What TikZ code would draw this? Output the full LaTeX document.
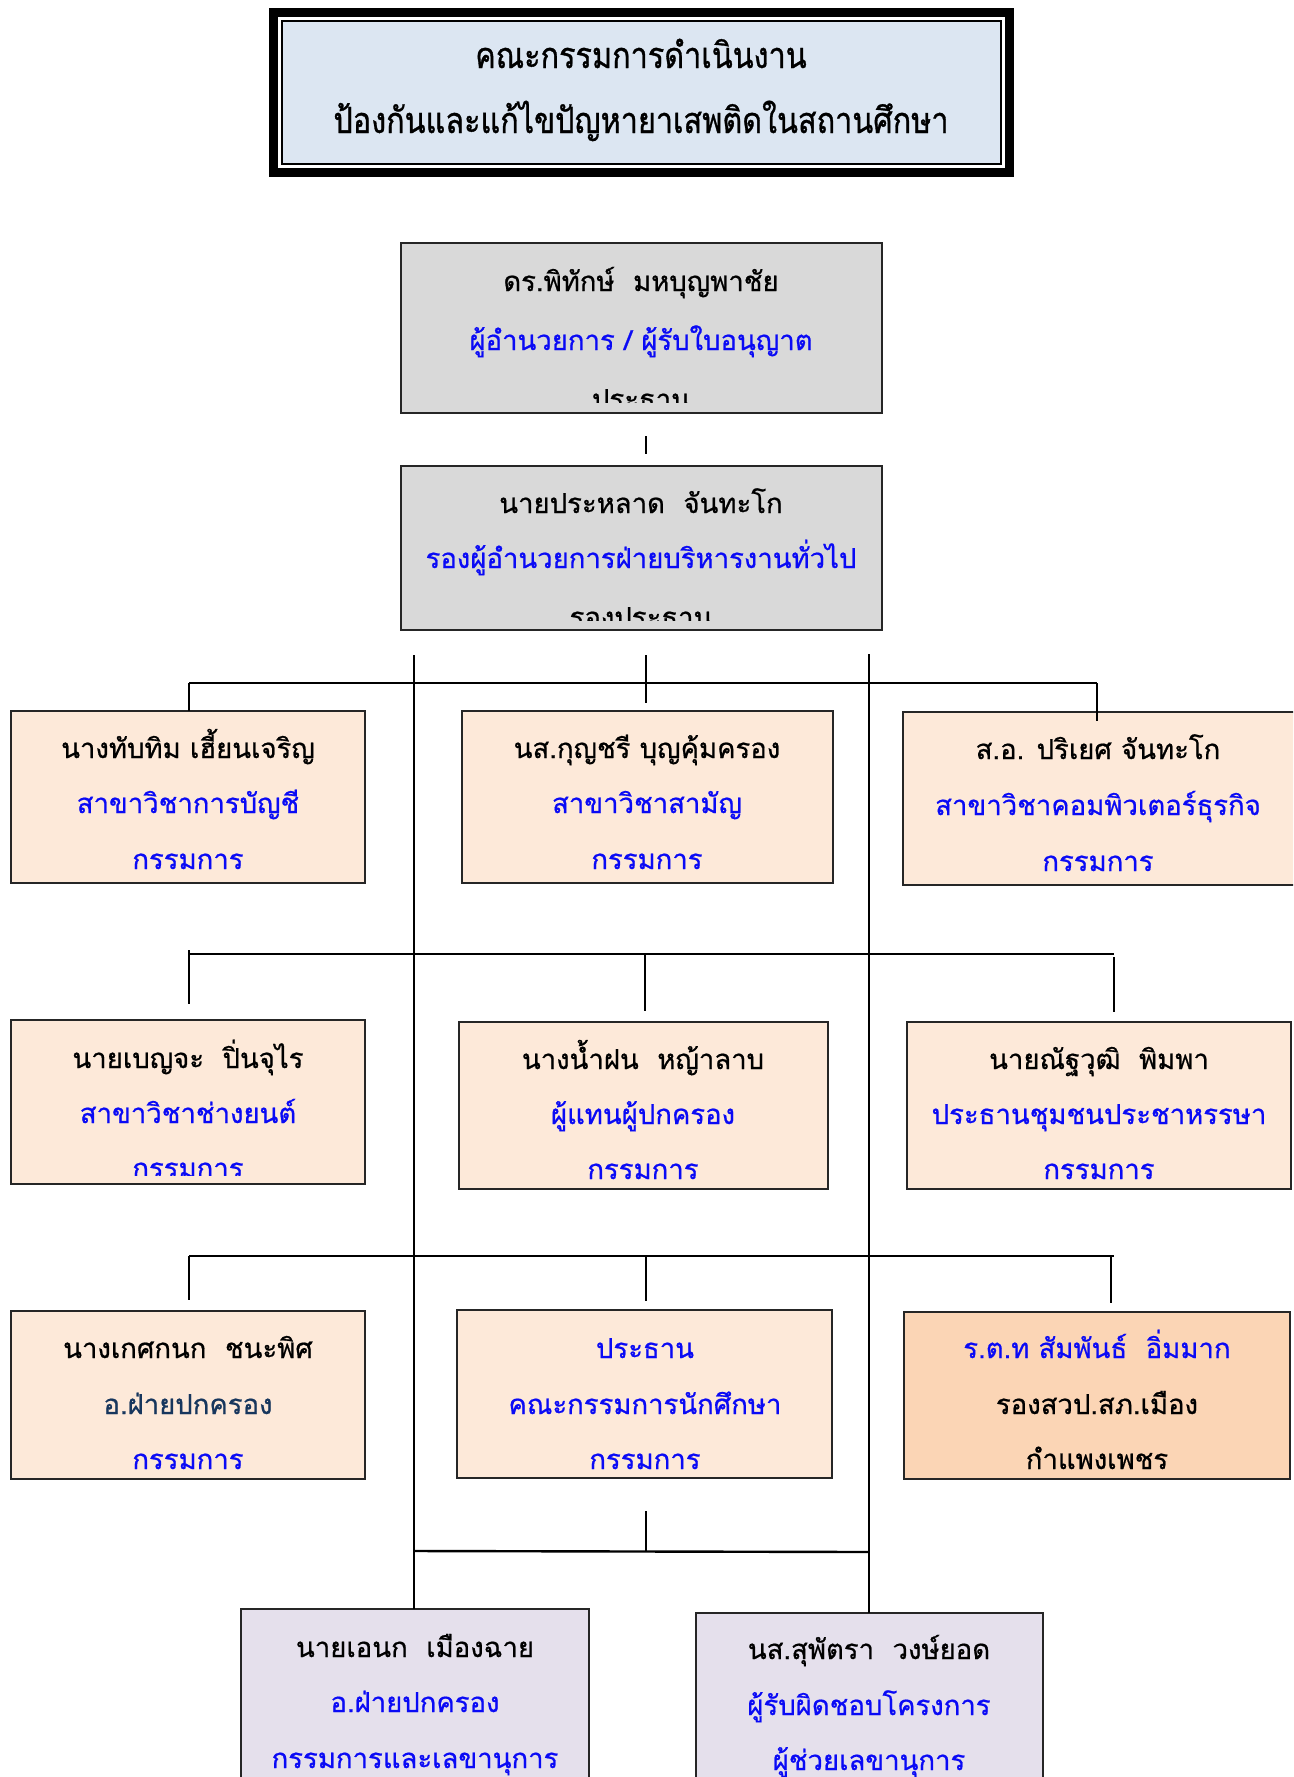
\documentclass[tikz,border=0pt]{standalone}
\usepackage{fontspec}
\newfontfamily\thaifont[Script=Thai,FakeBold=0.7]{Loma}
\newfontfamily\thaititle[Script=Thai,FakeStretch=0.85,FakeBold=0.9]{Loma}
\definecolor{tblue}{RGB}{10,10,245}
\definecolor{tnavy}{RGB}{23,54,93}
\definecolor{titlefill}{RGB}{220,230,242}
\definecolor{grayfill}{RGB}{217,217,217}
\definecolor{peach}{RGB}{253,233,217}
\definecolor{peachdark}{RGB}{251,213,181}
\definecolor{lav}{RGB}{229,224,236}
\begin{document}
\begin{tikzpicture}[x=1pt,y=-1pt,
  every node/.style={inner sep=0pt,outer sep=0pt},
  box/.style={draw=black!85,line width=2.2pt,rectangle,anchor=north west},
  txt/.style={anchor=base,font=\thaifont\fontsize{27.5}{32}\selectfont},
  ttl/.style={anchor=base,font=\thaititle\fontsize{36}{42}\selectfont},
  hline/.style={line width=2.4pt},
  vline/.style={line width=1.4pt}]
\useasboundingbox (0,0) rectangle (1293,1777);
\clip (0,0) rectangle (1293,1777);
\fill[white] (0,0) rectangle (1293,1777);

% title box
\node[fill=black,minimum width=745pt,minimum height=169pt,anchor=north west] (title) at (269,8) {};
\fill[white] (278,17) rectangle (1005,168);
\draw[fill=titlefill,line width=1.6pt] (282,21) rectangle (1001,164);
\node[ttl] at (641,68) {คณะกรรมการดำเนินงาน};
\node[ttl] at (641,133) {ป้องกันและแก้ไขปัญหายาเสพติดในสถานศึกษา};

% director
\node[box,fill=grayfill,minimum width=481pt,minimum height=170pt] (dir) at (401,243) {};
\begin{scope}
\clip (403,245) rectangle (880,402);
\node[txt] at (641,291) {ดร.พิทักษ์\ \ มหบุญพาชัย};
\node[txt,text=tblue] at (641,350) {ผู้อำนวยการ / ผู้รับใบอนุญาต};
\node[txt] at (641,409) {ประธาน};
\end{scope}

% deputy
\node[box,fill=grayfill,minimum width=481pt,minimum height=164pt] (dep) at (401,466) {};
\begin{scope}
\clip (403,468) rectangle (880,620);
\node[txt] at (641,513) {นายประหลาด\ \ จันทะโก};
\node[txt,text=tblue] at (641,568) {รองผู้อำนวยการฝ่ายบริหารงานทั่วไป};
\node[txt] at (641,627) {รองประธาน};
\end{scope}

% row 1
\node[box,fill=peach,minimum width=354pt,minimum height=172pt] (r1a) at (11,711) {};
\node[box,fill=peach,minimum width=371pt,minimum height=172pt] (r1b) at (462,711) {};
\node[box,fill=peach,minimum width=395pt,minimum height=173pt] (r1c) at (903,712) {};
\node[txt] at (188,758) {นางทับทิม เฮี้ยนเจริญ};
\node[txt,text=tblue] at (188,813) {สาขาวิชาการบัญชี};
\node[txt,text=tblue] at (188,869) {กรรมการ};
\node[txt] at (647,758) {นส.กุญชรี บุญคุ้มครอง};
\node[txt,text=tblue] at (647,813) {สาขาวิชาสามัญ};
\node[txt,text=tblue] at (647,869) {กรรมการ};
\node[txt] at (1098,759) {ส.อ. ปริเยศ จันทะโก};
\node[txt,text=tblue] at (1098,815) {สาขาวิชาคอมพิวเตอร์ธุรกิจ};
\node[txt,text=tblue] at (1098,871) {กรรมการ};

% row 2
\node[box,fill=peach,minimum width=354pt,minimum height=164pt] (r2a) at (11,1020) {};
\node[box,fill=peach,minimum width=369pt,minimum height=167pt] (r2b) at (459,1022) {};
\node[box,fill=peach,minimum width=384pt,minimum height=167pt] (r2c) at (907,1022) {};
\begin{scope}
\clip (13,1022) rectangle (363,1175);
\node[txt] at (188,1068) {นายเบญจะ\ \ ปิ่นจุไร};
\node[txt,text=tblue] at (188,1123) {สาขาวิชาช่างยนต์};
\node[txt,text=tblue] at (188,1178) {กรรมการ};
\end{scope}
\node[txt] at (643,1069) {นางน้ำฝน\ \ หญ้าลาบ};
\node[txt,text=tblue] at (643,1124) {ผู้แทนผู้ปกครอง};
\node[txt,text=tblue] at (643,1179) {กรรมการ};
\node[txt] at (1099,1069) {นายณัฐวุฒิ\ \ พิมพา};
\node[txt,text=tblue] at (1099,1124) {ประธานชุมชนประชาหรรษา};
\node[txt,text=tblue] at (1099,1179) {กรรมการ};

% row 3
\node[box,fill=peach,minimum width=354pt,minimum height=168pt] (r3a) at (11,1311) {};
\node[box,fill=peach,minimum width=375pt,minimum height=168pt] (r3b) at (457,1310) {};
\node[box,fill=peachdark,minimum width=386pt,minimum height=167pt] (r3c) at (904,1312) {};
\node[txt] at (188,1358) {นางเกศกนก\ \ ชนะพิศ};
\node[txt,text=tnavy] at (188,1414) {อ.ฝ่ายปกครอง};
\node[txt,text=tblue] at (188,1469) {กรรมการ};
\node[txt,text=tblue] at (645,1358) {ประธาน};
\node[txt,text=tblue] at (645,1414) {คณะกรรมการนักศึกษา};
\node[txt,text=tblue] at (645,1469) {กรรมการ};
\node[txt,text=tblue] at (1097,1358) {ร.ต.ท สัมพันธ์\ \ อิ่มมาก};
\node[txt] at (1097,1414) {รองสวป.สภ.เมือง};
\node[txt] at (1097,1469) {กำแพงเพชร};

% bottom
\node[box,fill=lav,minimum width=348pt,minimum height=200pt] (b1) at (241,1609) {};
\node[box,fill=lav,minimum width=347pt,minimum height=200pt] (b2) at (696,1613) {};
\node[txt] at (415,1657) {นายเอนก\ \ เมืองฉาย};
\node[txt,text=tblue] at (415,1712) {อ.ฝ่ายปกครอง};
\node[txt,text=tblue] at (415,1768) {กรรมการและเลขานุการ};
\node[txt] at (869,1659) {นส.สุพัตรา\ \ วงษ์ยอด};
\node[txt,text=tblue] at (869,1715) {ผู้รับผิดชอบโครงการ};
\node[txt,text=tblue] at (869,1770) {ผู้ช่วยเลขานุการ};

% connectors
\coordinate (s0a) at (646,436); \coordinate (s0b) at (646,454);
\draw[vline] (s0a) -- (s0b);
\coordinate (tL) at (414,655); \coordinate (tR) at (869,654);
\draw[vline] (tL) -- (b1.north -| tL);
\draw[vline] (tR) -- (b2.north -| tR);
\coordinate (c1) at (646,655);
\draw[vline] (c1) -- (646,703);
\coordinate (h1a) at (189,683); \coordinate (h1b) at (1097,683);
\draw[hline] (h1a) -- (h1b);
\draw[vline] (h1a) -- (r1a.north -| h1a);
\draw[vline] (h1b) -- (1097,721);
\coordinate (h2a) at (189,954); \coordinate (h2b) at (1114,954);
\draw[hline] (h2a) -- (h2b);
\draw[vline] (189,950) -- (189,1004);
\draw[vline] (645,954) -- (645,1011);
\draw[vline] (1114,957) -- (1114,1012);
\coordinate (h3a) at (189,1256); \coordinate (h3b) at (1114,1256);
\draw[hline] (h3a) -- (h3b);
\draw[vline] (189,1256) -- (189,1300);
\draw[vline] (646,1256) -- (646,1301);
\draw[vline] (1111,1256) -- (1111,1303);
\coordinate (s4) at (646,1511);
\draw[vline] (s4) -- (646,1551);
\draw[hline] (tL |- 0,1551) -- (tR |- 0,1552);
\end{tikzpicture}
\end{document}
